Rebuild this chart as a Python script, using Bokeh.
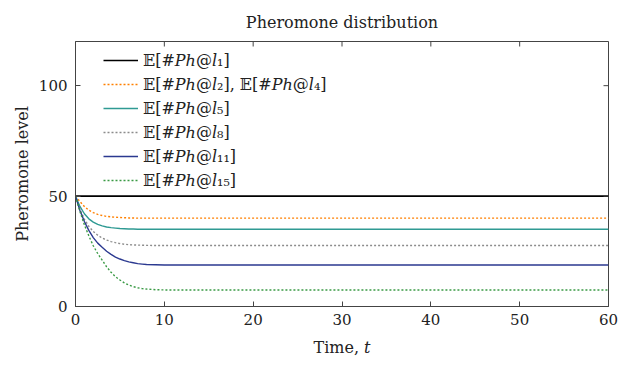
import math
from bokeh.plotting import figure
from bokeh.models import Legend, LegendItem, Range1d, FixedTicker
from bokeh.embed import file_html
from bokeh.resources import INLINE

# Data
time = [0, 0.5, 1, 1.5, 2, 2.5, 3, 3.5, 4, 4.5, 5, 5.5, 6, 6.5, 7, 7.5, 8, 9, 10, 60]
ph_l1 = [50] * 20
ph_l2_l4 = [50, 47.5, 45.3, 43.6, 42.5, 41.7, 41.2, 40.8, 40.6, 40.4, 40.3, 40.2, 40.1, 40.1, 40.0, 40.0, 40.0, 40.0, 40.0, 40.0]
ph_l5 = [50, 45.3, 42.0, 39.7, 38.2, 37.2, 36.5, 36.0, 35.7, 35.5, 35.3, 35.2, 35.1, 35.1, 35.0, 35.0, 35.0, 35.0, 35.0, 35.0]
ph_l8 = [50, 44.0, 39.5, 36.3, 34.0, 32.3, 31.0, 30.1, 29.4, 28.9, 28.5, 28.2, 28.0, 27.9, 27.8, 27.75, 27.7, 27.6, 27.6, 27.6]
ph_l11 = [50, 43.5, 38.5, 34.5, 31.2, 28.7, 26.8, 25.0, 23.6, 22.4, 21.5, 20.8, 20.2, 19.8, 19.4, 19.2, 19.0, 18.9, 18.8, 18.8]
ph_l15 = [50, 43.0, 37.0, 32.0, 27.5, 24.0, 21.0, 18.0, 15.5, 13.5, 12.0, 10.7, 9.7, 9.0, 8.5, 8.1, 7.9, 7.6, 7.5, 7.5]

labels = ["𝔼[#𝑃ℎ@𝑙₁]", "𝔼[#𝑃ℎ@𝑙₂], 𝔼[#𝑃ℎ@𝑙₄]", "𝔼[#𝑃ℎ@𝑙₅]", "𝔼[#𝑃ℎ@𝑙₈]", "𝔼[#𝑃ℎ@𝑙₁₁]", "𝔼[#𝑃ℎ@𝑙₁₅]"]
x_ticks = [0, 10, 20, 30, 40, 50, 60]
y_ticks = [0, 50, 100]
x_max = 60
y_max = 120

FONT = "DejaVu Serif"
FS = "15px"
TXT = "#222222"
AX = "#444444"

p = figure(width=623, height=359, output_backend="svg", toolbar_location=None,
           x_range=Range1d(0, x_max), y_range=Range1d(0, y_max),
           min_border_left=75, min_border_right=15, min_border_top=41, min_border_bottom=52,
           title="Pheromone distribution")
p.grid.visible = False
p.outline_line_color = AX
p.title.align = "center"
p.title.vertical_align = "top"
p.title.text_font = FONT
p.title.text_font_size = "16px"
p.title.text_font_style = "normal"
p.title.text_color = TXT
p.title.standoff = 16

series = [ph_l1, ph_l2_l4, ph_l5, ph_l8, ph_l11, ph_l15]
colors = ["#000000", "#ff8000", "#2f9a93", "#8c8c8c", "#2b3990", "#3a9a45"]
dashes = ["solid", "2 2", "solid", "2 2", "solid", "2 2"]
widths = [1.6, 1.4, 1.4, 1.4, 1.4, 1.4]

renderers = []
for ys, c, d, w in zip(series, colors, dashes, widths):
    r = p.line(time, ys, line_color=c, line_dash=d, line_width=w)
    renderers.append(r)

for ax in p.xaxis + p.yaxis:
    ax.major_tick_in = 5
    ax.major_tick_out = 0
    ax.minor_tick_in = 0
    ax.minor_tick_out = 0
    ax.axis_line_color = AX
    ax.major_tick_line_color = AX
    ax.major_label_text_font = FONT
    ax.major_label_text_font_size = FS
    ax.major_label_text_color = TXT
    ax.axis_label_text_font = FONT
    ax.axis_label_text_font_style = "normal"
    ax.axis_label_text_font_size = "16px"
    ax.axis_label_text_color = TXT

p.xaxis.ticker = FixedTicker(ticks=x_ticks)
p.yaxis.ticker = FixedTicker(ticks=y_ticks)
p.xaxis.major_label_standoff = 7
p.yaxis.major_label_standoff = 8
p.xaxis.axis_label = "Time, 𝑡"
p.xaxis.axis_label_standoff = 10
p.yaxis.axis_label = "Pheromone level"
p.yaxis.axis_label_standoff = 4

# mirrored inward ticks on the top and right edges
p.ray(x=x_ticks, y=[y_max] * len(x_ticks), length=5, length_units="screen",
      angle=-math.pi / 2, line_color=AX, line_width=1)
p.ray(x=[x_max] * len(y_ticks), y=y_ticks, length=5, length_units="screen",
      angle=math.pi, line_color=AX, line_width=1)

legend = Legend(items=[LegendItem(label=l, renderers=[r]) for l, r in zip(labels, renderers)],
                location=(20, 108), orientation="vertical",
                border_line_alpha=0, background_fill_alpha=0,
                glyph_width=35, glyph_height=20, label_height=20, spacing=4,
                label_standoff=5, padding=8, margin=0,
                label_text_font=FONT, label_text_font_size="16px", label_text_color=TXT)
p.add_layout(legend, "center")

open("out.html", "w").write(file_html(p, INLINE))
